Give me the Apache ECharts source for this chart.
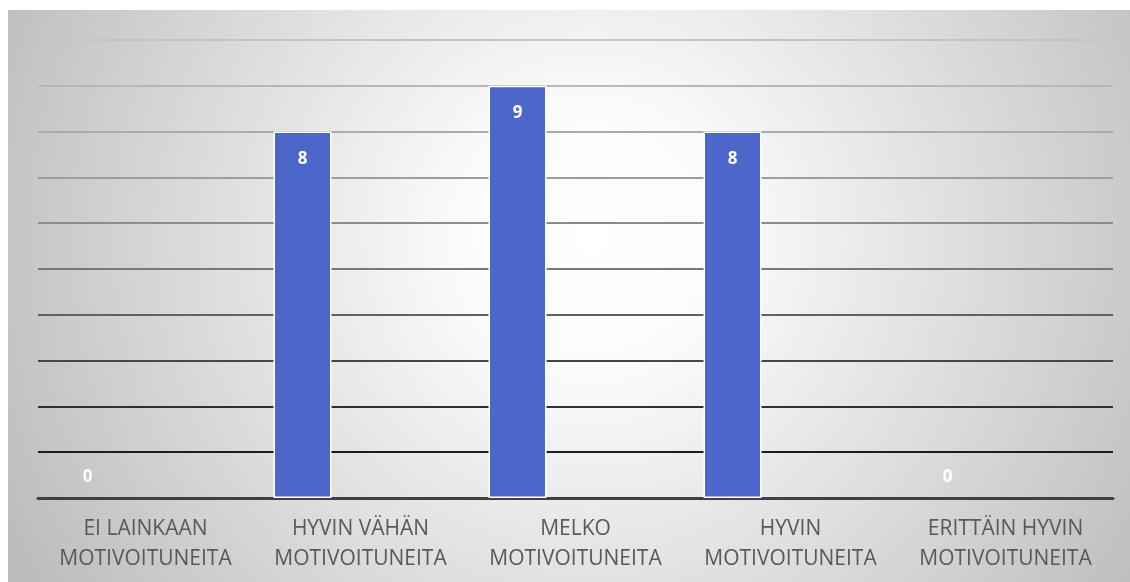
<!DOCTYPE html>
<html>
<head>
<meta charset="utf-8">
<script src="https://cdn.jsdelivr.net/npm/echarts@6/dist/echarts.min.js"></script>
<style>
html,body{margin:0;padding:0;background:#ffffff;}
#c{position:absolute;left:8px;top:10px;width:1122px;height:572px;}
</style>
</head>
<body>
<div id="c"></div>
<script>
const categories = ['EI LAINKAAN\nMOTIVOITUNEITA', 'HYVIN VÄHÄN\nMOTIVOITUNEITA', 'MELKO\nMOTIVOITUNEITA', 'HYVIN\nMOTIVOITUNEITA', 'ERITTÄIN HYVIN\nMOTIVOITUNEITA'];
const values = [0, 8, 9, 8, 0];
const emptySeriesA = [null, null, null, null, null];
const emptySeriesB = [null, null, null, null, null];
const yMin = 0, yMax = 10, yStep = 1;

const gridColors = ['#404040', '#1c1c1c', '#303030', '#474747', '#616161', '#787878', '#8c8c8c', '#9d9d9d', '#ababab', '#b7b7b7', '#c4c4c4'];

const chart = echarts.init(document.getElementById('c'), null, {renderer: 'canvas'});
const barData = values.map(v => v === 0
  ? {value: v, label: {position: 'top', distance: 12}, itemStyle: {borderWidth: 0}}
  : v);

chart.setOption({
  animation: false,
  backgroundColor: new echarts.graphic.RadialGradient(0.52, 0.4, 1.15, [
    {offset: 0, color: '#ffffff'},
    {offset: 0.2, color: '#fbfbfb'},
    {offset: 1, color: '#bcbcbc'}
  ]),
  grid: {left: 30, right: 17, top: 30, bottom: 84},
  xAxis: {
    type: 'category',
    data: categories,
    axisTick: {show: false},
    axisLine: {show: true, lineStyle: {color: '#404040', width: 3}},
    axisLabel: {
      color: '#595959',
      fontFamily: 'Open Sans',
      fontSize: 21,
      lineHeight: 30,
      margin: 16,
      interval: 0
    }
  },
  yAxis: {
    type: 'value',
    min: yMin, max: yMax, interval: yStep,
    axisLabel: {show: false},
    axisLine: {show: false},
    axisTick: {show: false},
    splitLine: {show: true, lineStyle: {color: gridColors, width: 2}}
  },
  series: [
    {
      type: 'bar',
      data: barData,
      barWidth: 58,
      barGap: '0%',
      itemStyle: {color: '#4d66c9', borderColor: '#ffffff', borderWidth: 1.5},
      label: {
        show: true,
        position: 'insideTop',
        distance: 19,
        color: '#ffffff',
        fontFamily: 'Open Sans',
        fontWeight: 'bold',
        fontSize: 17
      }
    },
    {type: 'bar', data: emptySeriesA, barWidth: 58, barGap: '0%'},
    {type: 'bar', data: emptySeriesB, barWidth: 58, barGap: '0%'}
  ]
});
</script>
</body>
</html>
